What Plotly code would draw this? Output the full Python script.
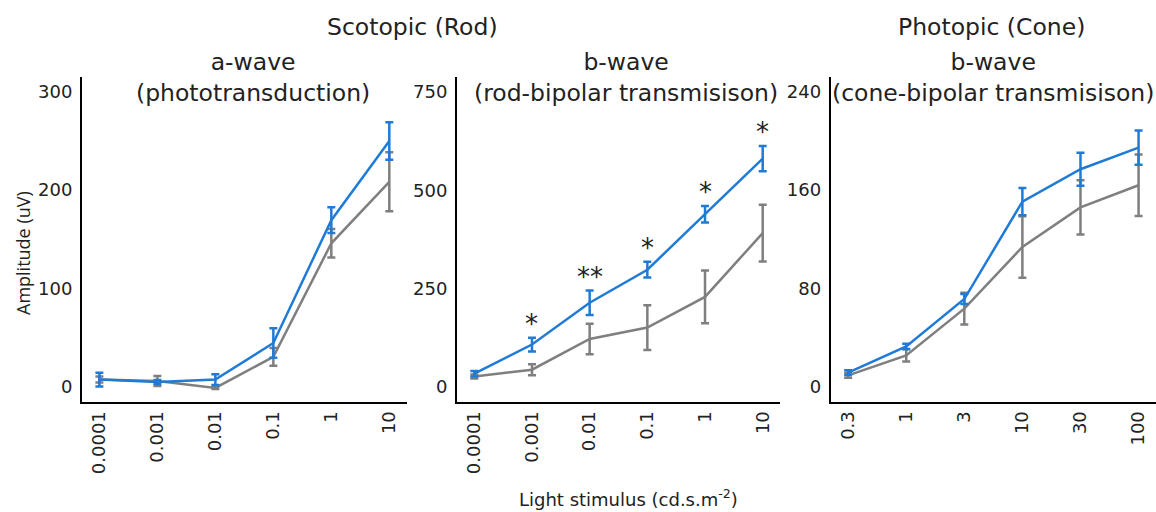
import plotly.graph_objects as go

# ---------------- data ----------------
scot_ticks = ["0.0001", "0.001", "0.01", "0.1", "1", "10"]
phot_ticks = ["0.3", "1", "3", "10", "30", "100"]

a_blue = [7.5, 5, 7.5, 44.7, 169.5, 250]
a_blue_err = [7, 2, 5.5, 15, 13, 19]
a_gray = [7.5, 6, -1, 30.5, 146, 208.5]
a_gray_err = [3, 5, 1, 9, 14.5, 30]

b_blue = [34, 108, 214, 298, 439, 580]
b_blue_err = [7, 17.5, 31, 20, 21, 32]
b_gray = [27, 44, 122, 151, 229, 391]
b_gray_err = [5, 14, 39, 57, 67, 72]
b_sig = ["", "*", "**", "*", "*", "*"]

c_blue = [11.7, 33, 71.5, 150.7, 177, 194.6]
c_blue_err = [2, 2.2, 4, 11, 13.5, 14]
c_gray = [9.5, 25.7, 63.7, 113.8, 146, 164]
c_gray_err = [2, 5, 13, 25, 22, 25]

a_yticks = [0, 100, 200, 300]
b_yticks = [0, 250, 500, 750]
c_yticks = [0, 80, 160, 240]

BLUE = "#1f7bd6"
GRAY = "#7f7f7f"
FONT = "DejaVu Sans"

W, H = 1156, 512
L, R, T, B = 82, 0, 77, 110
PW, PH = W - L - R, H - T - B


def px(x):
    return (x - L) / PW


def py(y):
    return (H - B - y) / PH


fig = go.Figure()

panels = [
    (1, scot_ticks, a_gray, a_gray_err, a_blue, a_blue_err, a_yticks, [-15.3, 315], (82, 406.7)),
    (2, scot_ticks, b_gray, b_gray_err, b_blue, b_blue_err, b_yticks, [-38, 787.5], (457, 780)),
    (3, phot_ticks, c_gray, c_gray_err, c_blue, c_blue_err, c_yticks, [-12.2, 252], (830.7, 1156)),
]

for i, ticks, g, ge, b, be, yt, yr, (x0, x1) in panels:
    xs = list(range(len(ticks)))
    xa = "x" if i == 1 else f"x{i}"
    ya = "y" if i == 1 else f"y{i}"
    for vals, errs, col in ((g, ge, GRAY), (b, be, BLUE)):
        fig.add_trace(go.Scatter(
            x=xs, y=vals, mode="lines", xaxis=xa, yaxis=ya,
            line=dict(color=col, width=2.5),
            error_y=dict(type="data", array=errs, visible=True, color=col,
                         thickness=2.5, width=4),
            showlegend=False, hoverinfo="skip",
        ))
    key = "" if i == 1 else str(i)
    fig.layout["xaxis" + key] = dict(
        domain=[px(x0), min(px(x1), 1.0)], anchor=ya, range=[-0.3, 5.3],
        tickvals=xs, ticktext=ticks, tickangle=-90,
        showline=True, linecolor="black", linewidth=2, mirror=False,
        showgrid=False, zeroline=False, ticks="",
        tickfont=dict(family=FONT, size=18, color="#222"),
    )
    fig.layout["yaxis" + key] = dict(
        domain=[0, 1], anchor=xa, range=yr, tickvals=yt,
        showline=True, linecolor="black", linewidth=2,
        showgrid=False, zeroline=False, ticks="", ticklabelstandoff=4,
        tickfont=dict(family=FONT, size=18, color="#222"),
    )

# significance stars
for k, s in enumerate(b_sig):
    if s:
        fig.add_annotation(x=k, y=b_blue[k] + b_blue_err[k], xref="x2", yref="y2",
                           text=s, showarrow=False, xanchor="center", yanchor="bottom",
                           yshift=-3,
                           font=dict(family=FONT, size=26, color="#222"))

texts = [
    ("Scotopic (Rod)", 412, 27),
    ("Photopic (Cone)", 991, 27),
    ("a-wave<br>(phototransduction)", 253, 77),
    ("b-wave<br>(rod-bipolar transmisison)", 626, 77),
    ("b-wave<br>(cone-bipolar transmisison)", 993, 77),
]
for t, x, y in texts:
    fig.add_annotation(text=t, x=px(x), y=py(y), xref="paper", yref="paper",
                       showarrow=False, xanchor="center", yanchor="middle",
                       font=dict(family=FONT, size=23.5, color="#222"))

fig.add_annotation(text="Light stimulus (cd.s.m<sup>-2</sup>)", x=px(628), y=py(498),
                   xref="paper", yref="paper", showarrow=False,
                   xanchor="center", yanchor="middle",
                   font=dict(family=FONT, size=18, color="#222"))
fig.add_annotation(text="Amplitude (uV)", x=px(23), y=py(253), xref="paper", yref="paper",
                   showarrow=False, textangle=-90, xanchor="center", yanchor="middle",
                   font=dict(family="Open Sans", size=18, color="#222"))

fig.update_layout(
    width=W, height=H, margin=dict(l=L, r=R, t=T, b=B),
    paper_bgcolor="white", plot_bgcolor="white",
)

fig.write_html("out.html")
